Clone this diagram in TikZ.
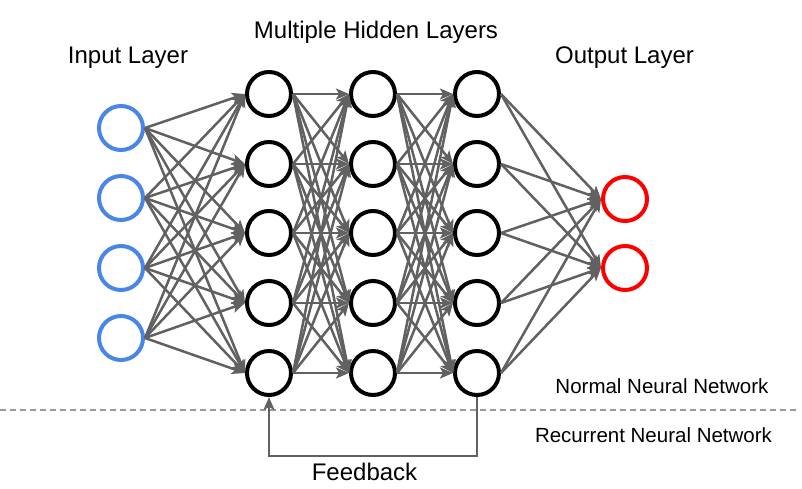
\documentclass[tikz,border=0pt]{standalone}
\usepackage{fontspec}
\setmainfont{Liberation Sans}
\usetikzlibrary{arrows.meta}
\definecolor{inblue}{HTML}{4A86E8}
\definecolor{outred}{HTML}{FF0000}
\definecolor{linkgray}{HTML}{616161}
\definecolor{sepgray}{HTML}{9A9A9A}
\begin{document}
\begin{tikzpicture}[x=1pt, y=-1pt,
        neuron/.style={circle, line width=4pt, minimum size=44pt, inner sep=0pt},
        inneuron/.style={neuron, draw=inblue},
        hidneuron/.style={neuron, draw=black},
        outneuron/.style={neuron, draw=outred},
        layertext/.style={inner sep=0pt, font=\fontsize{24}{28}\selectfont},
        notetext/.style={inner sep=0pt, font=\fontsize{20.5}{24}\selectfont},
        arrow/.style={-{Stealth[length=13pt, width=11pt, inset=3pt]}, line width=2.5pt, draw=linkgray},
        sepline/.style={draw=sepgray, line width=1.5pt, dash pattern=on 6pt off 4pt}
    ]
        \useasboundingbox (0,0) rectangle (802,488);

        % layers
        \foreach \y [count=\i] in {128,198,268,338}
            \node[inneuron] (in\i) at (121,\y) {};
        \foreach \y [count=\i] in {94,164,233,303,373} {
            \node[hidneuron] (ha\i) at (269,\y) {};
            \node[hidneuron] (hb\i) at (373,\y) {};
            \node[hidneuron] (hc\i) at (477,\y) {};
        }
        \foreach \y [count=\i] in {199,268}
            \node[outneuron] (out\i) at (625,\y) {};

        % titles
        \node[layertext] (intitle) at (128,57.5) {Input Layer};
        \node[layertext] (hidtitle) at (376,32.5) {Multiple Hidden Layers};
        \node[layertext] (outtitle) at (624.5,58) {Output Layer};
        \node[notetext] (normal) at (662,386.5) {Normal Neural Network};
        \node[notetext] (recurrent) at (653.5,434.7) {Recurrent Neural Network};
        \node[layertext] (feedback) at (364.5,472) {Feedback};

        % connections
        \foreach \i in {1,...,4}
            \foreach \j in {1,...,5}
                \draw[arrow] (in\i.east) -- (ha\j.west);
        \foreach \i in {1,...,5}
            \foreach \j in {1,...,5} {
                \draw[arrow] (ha\i.east) -- (hb\j.west);
                \draw[arrow] (hb\i.east) -- (hc\j.west);
            }
        \foreach \i in {1,...,5}
            \foreach \j in {1,2}
                \draw[arrow] (hc\i.east) -- (out\j.west);

        % separator and feedback loop
        \coordinate (sepl) at (0,410);
        \coordinate (sepr) at (797,410);
        \draw[sepline] (sepl) -- (sepr);

        \coordinate (fbl) at (269,456);
        \draw[arrow] (hc5.south) |- (fbl) -- (ha5.south);
    \end{tikzpicture}
\end{document}
